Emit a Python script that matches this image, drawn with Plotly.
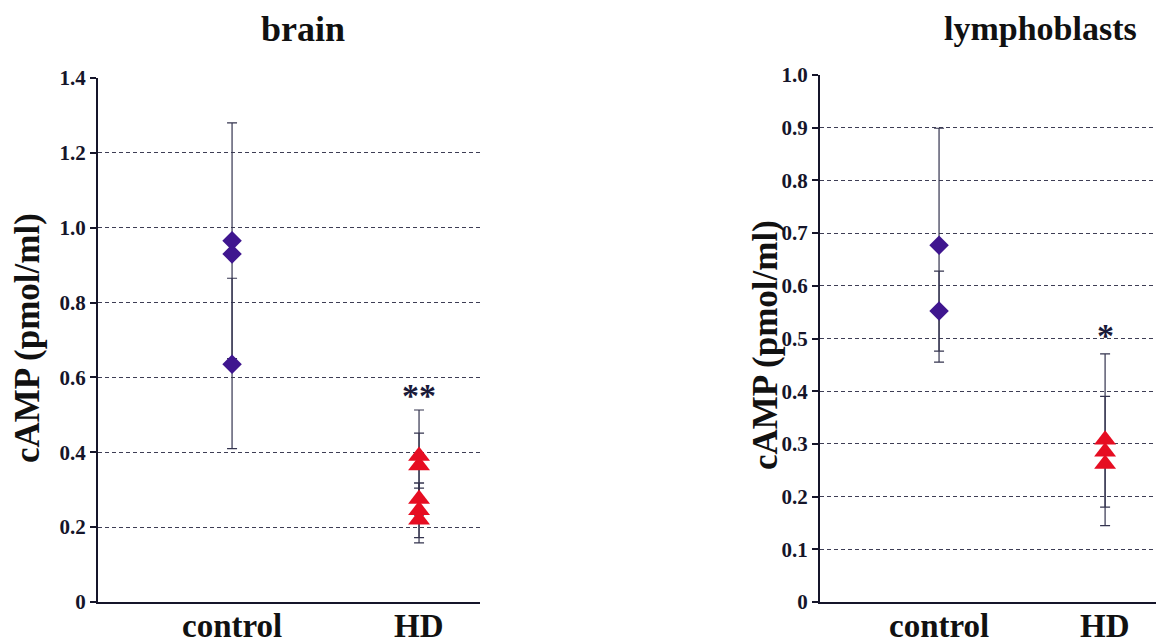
import plotly.graph_objects as go

# ---------------- data ----------------
categories = ["control", "HD"]

brain_control = [0.965, 0.93, 0.635]
brain_control_err_plus = [0.315, 0.0, 0.23]
brain_control_err_minus = [0.315, 0.0, 0.225]

brain_hd = [0.39, 0.365, 0.275, 0.245, 0.22]
brain_hd_err_plus = [0.123, 0.086, 0.043, 0.073, 0.084]
brain_hd_err_minus = [0.123, 0.086, 0.043, 0.073, 0.062]

lympho_control = [0.677, 0.552]
lympho_control_err = [0.222, 0.076]

lympho_hd = [0.308, 0.285, 0.262]
lympho_hd_err = [0.163, 0.105, 0.0]

brain_ticks = [0, 0.2, 0.4, 0.6, 0.8, 1.0, 1.2, 1.4]
brain_ticktext = ["0", "0.2", "0.4", "0.6", "0.8", "1.0", "1.2", "1.4"]
lympho_ticks = [0, 0.1, 0.2, 0.3, 0.4, 0.5, 0.6, 0.7, 0.8, 0.9, 1.0]
lympho_ticktext = ["0", "0.1", "0.2", "0.3", "0.4", "0.5", "0.6", "0.7", "0.8", "0.9", "1.0"]

panel_titles = ["brain", "lymphoblasts"]
y_title = "cAMP (pmol/ml)"
brain_sig = "**"
brain_sig_y = 0.553
lympho_sig = "*"
lympho_sig_y = 0.505

# ---------------- style ----------------
W, H = 1164, 643
OFF = 8  # page body margin offset
FONT = "Liberation Serif"
INK = "#15152a"
PURPLE = "#3f168f"
RED = "#e60d22"
ERR = "#34344f"

mt, mb = 67, 49
ph = H - mt - mb
plot_bottom_screen = H - mb + OFF  # 602

fig = go.Figure()

def add_group(xref, yref, cat, vals, eplus, eminus, symbol, color, size):
    fig.add_trace(go.Scatter(
        x=[cat] * len(vals), y=vals, mode="markers",
        xaxis=xref, yaxis=yref,
        marker=dict(symbol=symbol, color=color, size=size, line=dict(width=0)),
        error_y=dict(type="data", symmetric=False, array=eplus, arrayminus=eminus,
                     color=ERR, thickness=1.2, width=5),
        showlegend=False, hoverinfo="skip",
    ))

add_group("x", "y", 0, brain_control, brain_control_err_plus, brain_control_err_minus,
          "diamond", PURPLE, 15)
add_group("x", "y", 1, brain_hd, brain_hd_err_plus, brain_hd_err_minus,
          "triangle-up", RED, 19)
add_group("x2", "y2", 0, lympho_control, lympho_control_err, lympho_control_err,
          "diamond", PURPLE, 15)
add_group("x2", "y2", 1, lympho_hd, lympho_hd_err, lympho_hd_err,
          "triangle-up", RED, 19)

def px_x(p):
    return (p - OFF) / W

def px_y(p):
    return (plot_bottom_screen - p) / ph

yaxis_common = dict(
    showline=True, linecolor=INK, linewidth=2,
    ticks="outside", ticklen=6, tickwidth=1.5, tickcolor=INK,
    tickfont=dict(family=FONT, size=21, color=INK, weight="bold"),
    showgrid=True, gridcolor="#3e3e55", gridwidth=1, griddash="4px,3px",
    zeroline=False,
)
xaxis_common = dict(
    showline=True, linecolor=INK, linewidth=2,
    ticks="", tickvals=[0, 1], showticklabels=False,
    showgrid=False, zeroline=False,
)

fig.update_layout(
    width=W, height=H,
    margin=dict(l=0, r=0, t=mt, b=mb),
    paper_bgcolor="white", plot_bgcolor="white",
    xaxis=dict(domain=[px_x(98), px_x(480)], range=[-0.717, 1.326], anchor="y",
               **xaxis_common),
    yaxis=dict(domain=[0, px_y(78)], range=[0, 1.4], anchor="x",
               tickvals=brain_ticks, ticktext=brain_ticktext, **yaxis_common),
    xaxis2=dict(domain=[px_x(820), 1.0], range=[-0.717, 1.403], anchor="y2",
                **xaxis_common),
    yaxis2=dict(domain=[0, px_y(75)], range=[0, 1.0], anchor="x2",
                tickvals=lympho_ticks, ticktext=lympho_ticktext, **yaxis_common),
)

annotations = [
    dict(text=panel_titles[0], x=px_x(303), y=px_y(29), xref="paper", yref="paper",
         showarrow=False, xanchor="center", yanchor="middle", borderpad=0,
         font=dict(family=FONT, size=36, color="#111", weight="bold")),
    dict(text=panel_titles[1], x=px_x(1040), y=px_y(29), xref="paper", yref="paper",
         showarrow=False, xanchor="center", yanchor="middle", borderpad=0,
         font=dict(family=FONT, size=34, color="#111", weight="bold")),
    dict(text=y_title, x=px_x(27), y=px_y(338), xref="paper", yref="paper",
         showarrow=False, xanchor="center", yanchor="middle", textangle=-90,
         font=dict(family=FONT, size=35, color="#111", weight="bold")),
    dict(text=y_title, x=px_x(765), y=px_y(345), xref="paper", yref="paper",
         showarrow=False, xanchor="center", yanchor="middle", textangle=-90,
         font=dict(family=FONT, size=35, color="#111", weight="bold")),
    dict(text=brain_sig, x=1, y=brain_sig_y, xref="x", yref="y",
         showarrow=False, xanchor="center", yanchor="middle",
         font=dict(family=FONT, size=34, color="#1a1a3a", weight="bold")),
    dict(text=lympho_sig, x=1, y=lympho_sig_y, xref="x2", yref="y2",
         showarrow=False, xanchor="center", yanchor="middle",
         font=dict(family=FONT, size=34, color="#1a1a3a", weight="bold")),
]
for xr in ["x", "x2"]:
    for i, cat in enumerate(categories):
        annotations.append(dict(
            text=cat, x=i, y=px_y(626), xref=xr, yref="paper",
            showarrow=False, xanchor="center", yanchor="middle",
            font=dict(family=FONT, size=33, color="#111", weight="bold")))
fig.update_layout(annotations=annotations)

fig.write_html("out.html")
